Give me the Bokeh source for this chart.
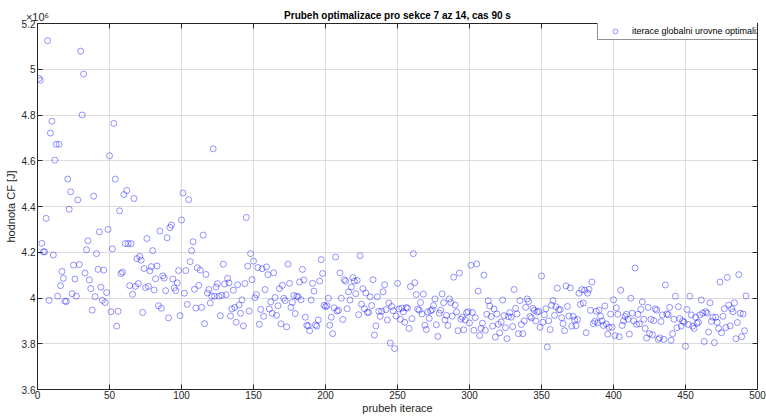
import numpy as np
from bokeh.plotting import figure
from bokeh.models import LinearAxis, FixedTicker, CustomJSTickFormatter, Range1d
from bokeh.embed import file_html
from bokeh.resources import INLINE

# Cost function value of each global-level iteration, in units of 1e6 J
cf_values = [
    4.960, 4.952, 4.239, 4.202, 4.202, 4.348, 5.125, 3.990, 4.721, 4.773,
    4.188, 4.603, 4.672, 4.008, 4.672, 4.054, 4.116, 4.086, 3.986, 3.985,
    4.520, 4.388, 4.464, 4.019, 4.144, 4.083, 4.008, 4.429, 4.146, 5.079,
    4.800, 4.979, 4.109, 4.211, 4.250, 4.079, 4.041, 3.947, 4.445, 4.006,
    4.194, 4.125, 4.289, 4.047, 3.990, 4.122, 3.980, 4.024, 4.300, 4.622,
    3.940, 4.215, 4.763, 4.520, 3.877, 3.942, 4.381, 4.107, 4.113, 4.452,
    4.238, 4.470, 4.238, 4.054, 4.238, 4.016, 4.435, 4.051, 4.172, 4.063,
    4.182, 4.165, 3.937, 4.129, 4.045, 4.260, 4.051, 4.119, 4.137, 4.207,
    4.035, 4.084, 4.140, 3.966, 4.293, 3.955, 4.097, 4.087, 4.032, 4.263,
    3.913, 4.308, 4.319, 4.083, 4.044, 4.032, 4.066, 4.120, 3.923, 4.341,
    4.459, 4.021, 4.120, 3.972, 4.430, 4.159, 4.207, 4.246, 4.038, 3.956,
    4.132, 4.055, 4.122, 3.959, 4.275, 3.888, 4.103, 4.022, 4.037, 3.978,
    4.008, 4.652, 4.008, 4.048, 4.063, 4.008, 3.923, 4.012, 4.148, 4.061,
    4.014, 4.086, 4.066, 3.921, 3.952, 4.034, 3.959, 3.894, 4.058, 3.969,
    3.933, 3.992, 3.878, 4.063, 4.352, 4.139, 3.943, 4.194, 4.080, 4.161,
    4.001, 4.015, 4.133, 3.885, 3.950, 4.128, 3.920, 4.037, 4.136, 4.102,
    3.952, 3.983, 3.933, 4.110, 4.002, 3.924, 3.966, 4.041, 3.887, 4.055,
    3.999, 3.989, 3.874, 4.148, 4.064, 3.959, 3.981, 4.011, 3.932, 4.008,
    4.005, 4.070, 3.992, 4.125, 4.079, 3.916, 3.881, 3.878, 3.857, 3.991,
    4.064, 4.030, 3.882, 3.877, 3.904, 4.074, 4.168, 4.107, 3.968, 3.962,
    3.966, 3.999, 3.881, 3.916, 3.844, 3.957, 4.179, 3.943, 3.946, 4.110,
    3.999, 3.906, 4.080, 4.074, 3.953, 4.027, 3.991, 4.048, 4.089, 4.074,
    4.019, 4.077, 3.927, 4.185, 3.973, 4.041, 3.953, 4.022, 3.937, 3.937,
    4.005, 3.967, 4.080, 3.838, 3.878, 4.005, 3.942, 3.920, 3.942, 4.027,
    4.058, 3.949, 3.904, 3.978, 3.803, 3.963, 3.945, 3.779, 3.921, 4.064,
    3.952, 3.907, 3.956, 3.939, 3.894, 3.958, 3.956, 3.867, 4.050, 3.910,
    4.194, 4.067, 4.015, 3.952, 3.947, 3.980, 3.930, 4.017, 3.881, 3.862,
    3.939, 3.911, 3.944, 3.949, 3.967, 3.996, 3.883, 3.832, 3.934, 3.947,
    4.018, 3.979, 3.904, 3.924, 3.880, 3.996, 3.980, 3.921, 4.091, 3.969,
    3.939, 3.857, 4.109, 3.907, 3.916, 3.861, 3.904, 3.936, 3.940, 3.891,
    4.143, 3.937, 3.859, 3.914, 4.149, 4.030, 3.836, 3.867, 3.890, 4.100,
    3.859, 3.929, 3.988, 3.965, 3.919, 3.877, 3.952, 3.829, 3.930, 3.885,
    3.848, 3.895, 3.991, 3.923, 3.870, 3.822, 3.919, 3.936, 3.916, 3.875,
    4.037, 3.955, 3.930, 3.844, 3.989, 3.884, 3.844, 3.900, 3.959, 3.996,
    3.985, 3.919, 3.913, 3.955, 3.946, 3.900, 3.939, 3.942, 3.872, 4.096,
    3.894, 3.927, 3.953, 3.786, 3.900, 3.862, 3.968, 3.989, 3.924, 3.962,
    4.043, 3.949, 3.949, 3.914, 3.888, 3.857, 4.053, 3.963, 3.921, 4.044,
    3.877, 3.920, 3.904, 3.879, 3.906, 4.021, 3.972, 4.037, 3.978, 4.034,
    3.848, 4.021, 4.038, 3.946, 4.070, 3.888, 3.898, 3.942, 3.891, 3.947,
    3.920, 3.900, 3.880, 3.965, 3.887, 3.842, 3.872, 3.930, 3.872, 3.992,
    3.836, 3.957, 3.929, 3.831, 4.034, 3.880, 3.900, 3.919, 3.929, 3.907,
    3.842, 3.999, 3.934, 3.900, 4.131, 3.885, 3.929, 3.887, 3.950, 3.983,
    3.907, 3.867, 3.825, 3.959, 3.844, 3.907, 3.839, 3.901, 3.952, 3.947,
    3.819, 3.826, 3.897, 3.926, 3.819, 4.057, 3.930, 3.927, 3.959, 3.815,
    3.844, 3.907, 4.008, 3.870, 3.962, 3.910, 3.877, 3.900, 3.894, 3.789,
    3.950, 3.884, 4.008, 3.926, 3.877, 3.867, 3.916, 3.890, 3.894, 3.926,
    3.991, 3.934, 3.810, 3.940, 3.934, 3.851, 3.979, 3.898, 3.916, 3.805,
    3.916, 3.894, 3.867, 4.070, 3.848, 3.920, 3.953, 3.871, 4.090, 3.969,
    3.878, 3.953, 3.940, 3.979, 3.822, 3.893, 4.102, 3.933, 3.831, 3.930,
    3.857, 4.009,
]
iterations = np.arange(1, len(cf_values) + 1)

x_ticks = [0, 50, 100, 150, 200, 250, 300, 350, 400, 450, 500]
y_ticks = [3.6, 3.8, 4.0, 4.2, 4.4, 4.6, 4.8, 5.0, 5.2]
y_multiplier = "\u00d710\u2076"

title_text = "Prubeh optimalizace pro sekce 7 az 14, cas 90 s"
x_label = "prubeh iterace"
y_label = "hodnota CF [J]"
series_label = "iterace globalni urovne optimalizace"

FONT = "Liberation Sans"
INK = "#262626"

p = figure(width=766, height=416, output_backend="svg", toolbar_location=None,
           x_range=Range1d(0, 500), y_range=Range1d(3.6, 5.2),
           min_border_left=37, min_border_right=9,
           min_border_top=23, min_border_bottom=23,
           x_axis_label=x_label, y_axis_label=y_label)
p.background_fill_color = "white"
p.border_fill_color = "white"
p.outline_line_color = None


def style_axis(ax):
    ax.axis_line_color = INK
    ax.axis_line_width = 1
    ax.major_tick_line_color = INK
    ax.major_tick_in = 5
    ax.major_tick_out = 0
    ax.minor_tick_line_color = None
    ax.major_label_text_font = FONT
    ax.major_label_text_color = INK
    ax.major_label_text_font_size = "10px"
    ax.major_label_standoff = 2
    ax.axis_label_text_font = FONT
    ax.axis_label_text_color = INK
    ax.axis_label_text_font_style = "normal"
    ax.axis_label_text_font_size = "11px"
    ax.axis_label_standoff = 2


# bottom / left axes carry the tick values
xb = p.xaxis[0]
yl = p.yaxis[0]
xb.ticker = FixedTicker(ticks=x_ticks)
yl.ticker = FixedTicker(ticks=y_ticks)
yl.formatter = CustomJSTickFormatter(code="return String(Math.round(tick * 10) / 10);")
style_axis(xb)
style_axis(yl)
xb.major_label_standoff = 1
xb.axis_label_standoff = 0

# top axis: box ticks, the y multiplier at the left corner and the title
xt = LinearAxis(ticker=FixedTicker(ticks=x_ticks),
                formatter=CustomJSTickFormatter(
                    args=dict(m=y_multiplier),
                    code="return tick == 0 ? m : '';"))
style_axis(xt)
xt.major_label_text_align = "left"
xt.major_label_text_font_size = "11px"
xt.major_label_standoff = 1
xt.axis_label = title_text
xt.axis_label_text_font_style = "bold"
xt.axis_label_text_font_size = "10px"
xt.axis_label_text_color = "black"
xt.axis_label_standoff = -13
p.add_layout(xt, "above")

# right axis: box ticks only
yr = LinearAxis(ticker=FixedTicker(ticks=y_ticks),
                formatter=CustomJSTickFormatter(code="return '';"))
style_axis(yr)
yr.major_label_standoff = 0
p.add_layout(yr, "right")

p.xgrid.ticker = FixedTicker(ticks=x_ticks)
p.ygrid.ticker = FixedTicker(ticks=y_ticks)
for g in (p.xgrid[0], p.ygrid[0]):
    g.grid_line_color = "#dcdcdc"
    g.grid_line_width = 1

p.scatter(iterations, cf_values, marker="circle", size=6,
          fill_color=None, line_color="#0000ff", line_width=0.6,
          line_alpha=0.7, legend_label=series_label)

lg = p.legend[0]
lg.location = (560, 349)
lg.margin = 0
lg.padding = 2
lg.spacing = 0
lg.glyph_width = 30
lg.glyph_height = 12
lg.label_standoff = 2
lg.label_text_font = FONT
lg.label_text_font_size = "9px"
lg.label_text_color = "black"
lg.border_line_color = INK
lg.border_line_width = 1
lg.background_fill_color = "white"
lg.background_fill_alpha = 1.0

open("out.html", "w").write(file_html(p, INLINE))
